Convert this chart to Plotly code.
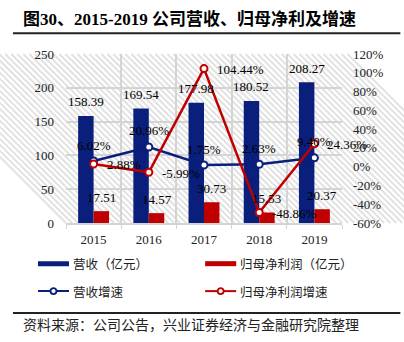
import plotly.graph_objects as go

years = ["2015", "2016", "2017", "2018", "2019"]
revenue = [158.39, 169.54, 177.98, 180.52, 208.27]
net_profit = [17.51, 14.57, 30.73, 15.53, 20.37]
revenue_growth = [6.02, 20.96, 1.75, 2.63, 9.40]
profit_growth = [2.88, -5.99, 104.44, -48.86, 24.36]
left_ticks = [0, 50, 100, 150, 200, 250]
right_ticks = [-60, -40, -20, 0, 20, 40, 60, 80, 100, 120]
right_tick_text = ["-60%", "-40%", "-20%", "0%", "20%", "40%", "60%", "80%", "100%", "120%"]

BLUE = "#0a1f7c"
RED = "#c00000"
GRID = "#d4d4d4"
HATCH = "#e2e2e2"
SERIF = "Liberation Serif, Noto Sans CJK SC"
CJK = "Noto Sans CJK SC"

W, H = 404, 342
L, R, T, B = 66, 341.7, 54, 222.7
PW, PH = R - L, B - T


def px(x):
    return (x - L) / PW


def py(y):
    return (B - y) / PH


fig = go.Figure()

fig.add_trace(go.Bar(x=years, y=revenue, width=0.28, offset=-0.28,
                     marker=dict(color=BLUE, line=dict(width=0)), name="营收（亿元）"))
fig.add_trace(go.Bar(x=years, y=net_profit, width=0.28, offset=0,
                     marker=dict(color=RED, line=dict(width=0)), name="归母净利润（亿元）"))
fig.add_trace(go.Scatter(x=years, y=revenue_growth, yaxis="y2", mode="lines+markers",
                         line=dict(color=BLUE, width=2.5),
                         marker=dict(symbol="circle", size=7, color="white",
                                     line=dict(color=BLUE, width=2)),
                         name="营收增速"))
fig.add_trace(go.Scatter(x=years, y=profit_growth, yaxis="y2", mode="lines+markers",
                         line=dict(color=RED, width=2.5),
                         marker=dict(symbol="circle", size=7, color="white",
                                     line=dict(color=RED, width=2)),
                         name="归母净利润增速"))

annotations = []
lab_font = dict(family=SERIF, size=13, color="black")
for i, v in enumerate(revenue):
    annotations.append(dict(x=i - 0.14, y=v, xref="x", yref="y", text=f"{v:.2f}",
                            showarrow=False, yshift=14, font=lab_font))
for i, v in enumerate(net_profit):
    annotations.append(dict(x=i + 0.14, y=v, xref="x", yref="y", text=f"{v:.2f}",
                            showarrow=False, yshift=14, font=lab_font))
for i, v in enumerate(revenue_growth):
    annotations.append(dict(x=i, y=v, xref="x", yref="y2", text=f"{v:.2f}%",
                            showarrow=False, yshift=16, font=lab_font))
for i, v in enumerate(profit_growth):
    annotations.append(dict(x=i, y=v, xref="x", yref="y2", text=f"{v:.2f}%",
                            showarrow=False, xanchor="left", xshift=11, yshift=-1, font=lab_font))

# title and source
annotations.append(dict(x=px(21), y=py(19), xref="paper", yref="paper", xanchor="left",
                        yanchor="middle", showarrow=False,
                        text="<b>图30、2015-2019 公司营收、归母净利及增速</b>",
                        font=dict(family=SERIF, size=17, color="black")))
annotations.append(dict(x=px(21), y=py(323.3), xref="paper", yref="paper", xanchor="left",
                        yanchor="middle", showarrow=False,
                        text="资料来源：公司公告，兴业证券经济与金融研究院整理",
                        font=dict(family=CJK, size=14, color="#222")))

# diagonal hatch of the plot background (drawn below the gridlines)
step = 6.0
segs = []
a = -PH
while a < PW + step:
    segs.append(f"M{a / PW:.5f},1 L{(a + PH) / PW:.5f},0")
    a += step
shapes = [
    dict(type="path", xref="x domain", yref="y domain", path=" ".join(segs),
         line=dict(color=HATCH, width=2), layer="below"),
    dict(type="line", xref="paper", yref="paper", x0=px(13), x1=px(400), y0=py(33.3), y1=py(33.3),
         line=dict(color="#222", width=2)),
    dict(type="line", xref="paper", yref="paper", x0=px(13), x1=px(400), y0=py(312.5), y1=py(312.5),
         line=dict(color="#222", width=2)),
]

# custom legend
leg_font = dict(family=CJK, size=12.5, color="#222")
leg_items = [
    ("bar", BLUE, 38, 263.3, "营收（亿元）"),
    ("bar", RED, 205, 263.3, "归母净利润（亿元）"),
    ("line", BLUE, 38, 290.7, "营收增速"),
    ("line", RED, 205, 290.7, "归母净利润增速"),
]
for kind, col, x0, yc, label in leg_items:
    if kind == "bar":
        shapes.append(dict(type="rect", xref="paper", yref="paper", x0=px(x0), x1=px(x0 + 31),
                           y0=py(yc + 2.5), y1=py(yc - 2.5), fillcolor=col, line=dict(width=0)))
    else:
        shapes.append(dict(type="line", xref="paper", yref="paper", x0=px(x0), x1=px(x0 + 31),
                           y0=py(yc), y1=py(yc), line=dict(color=col, width=2)))
        shapes.append(dict(type="circle", xref="paper", yref="paper", x0=px(x0 + 12.5),
                           x1=px(x0 + 18.5), y0=py(yc + 3), y1=py(yc - 3), fillcolor="white",
                           line=dict(color=col, width=1.8)))
    annotations.append(dict(x=px(x0 + 33), y=py(yc), xref="paper", yref="paper", xanchor="left",
                            yanchor="middle", showarrow=False, text=label, font=leg_font))

fig.update_layout(
    width=W, height=H,
    margin=dict(l=L, r=W - R, t=T, b=H - B, pad=0),
    paper_bgcolor="white", plot_bgcolor="white",
    barmode="overlay", showlegend=False,
    xaxis=dict(type="category", categoryorder="array", categoryarray=years,
               range=[-0.5, len(years) - 0.5],
               tickson="boundaries", showgrid=True, gridcolor=GRID, gridwidth=1.5,
               ticks="outside", ticklen=4, tickcolor=GRID,
               showline=True, linecolor=GRID, linewidth=1.5,
               tickfont=dict(family=SERIF, size=13, color="#222"), ticklabelstandoff=4),
    yaxis=dict(range=[left_ticks[0], left_ticks[-1]], tickvals=left_ticks,
               showgrid=True, gridcolor=GRID, gridwidth=1.5, zeroline=False,
               showline=False, ticks="", ticklabelstandoff=11,
               tickfont=dict(family=SERIF, size=13, color="#222")),
    yaxis2=dict(overlaying="y", side="right", range=[right_ticks[0], right_ticks[-1]],
                tickvals=right_ticks, ticktext=right_tick_text, showgrid=False, zeroline=False,
                showline=False, ticks="", ticklabelstandoff=10,
                tickfont=dict(family=SERIF, size=13, color="#222")),
    annotations=annotations, shapes=shapes,
)

fig.write_html("out.html")
